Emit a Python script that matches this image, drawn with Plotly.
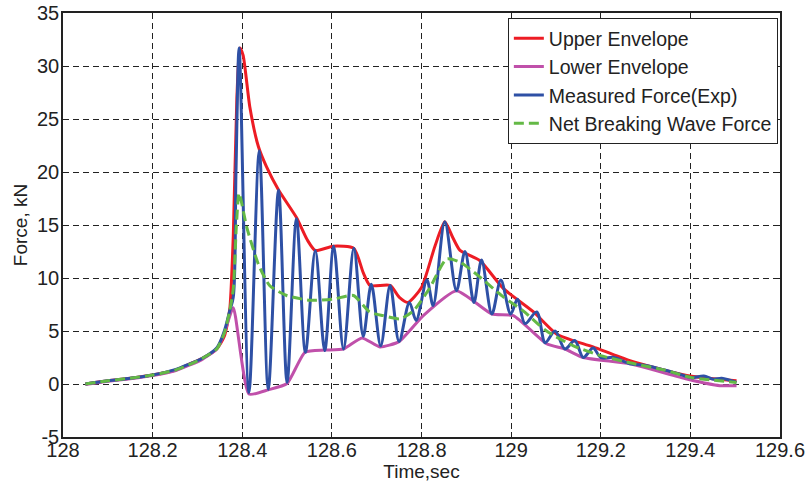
import plotly.graph_objects as go

# Measured force (experiment)
t_meas = [128.05, 128.10, 128.15, 128.20, 128.25, 128.283, 128.31, 128.343, 128.36, 128.372, 128.38,
          128.386, 128.393, 128.415, 128.438, 128.458, 128.481, 128.500, 128.521, 128.541, 128.563,
          128.584, 128.604, 128.626, 128.649, 128.670, 128.688, 128.709, 128.730, 128.750, 128.773,
          128.788, 128.812, 128.826, 128.852, 128.878, 128.897, 128.917, 128.934, 128.957, 128.977,
          128.999, 129.014, 129.031, 129.057, 129.076, 129.098, 129.120, 129.142, 129.161, 129.183,
          129.200, 129.230, 129.265, 129.300, 129.344, 129.370, 129.403, 129.430, 129.451, 129.470, 129.503]
f_meas = [0.0, 0.3, 0.55, 0.85, 1.35, 1.9, 2.4, 3.4, 5.0, 6.9, 8.2,
          20.0, 31.7, -0.8, 22.0, -0.5, 18.3, 0.15, 15.6, 3.0, 12.6,
          3.15, 13.0, 3.3, 12.8, 4.5, 9.4, 3.6, 9.3, 4.0, 7.7,
          6.0, 9.8, 7.4, 15.3, 8.8, 12.5, 7.7, 11.7, 6.6, 9.8,
          6.6, 8.0, 5.7, 6.8, 3.9, 5.0, 3.3, 4.1, 2.5, 3.4,
          2.5, 2.5, 1.9, 1.75, 1.3, 1.0, 0.6, 0.75, 0.45, 0.55, 0.15]

# Upper envelope
t_up = [128.05, 128.10, 128.15, 128.20, 128.25, 128.283, 128.31, 128.343, 128.36, 128.372, 128.38,
        128.388, 128.395, 128.402, 128.417, 128.436, 128.454, 128.481, 128.521, 128.545, 128.563,
        128.603, 128.649, 128.670, 128.685, 128.730, 128.750, 128.770, 128.800, 128.830, 128.852,
        128.870, 128.886, 128.930, 128.983, 129.050, 129.102, 129.183, 129.265, 129.392, 129.503]
f_up = [0.0, 0.3, 0.55, 0.85, 1.3, 1.9, 2.4, 3.3, 4.5, 7.0, 14.0,
        27.0, 31.7, 31.0, 26.1, 22.4, 20.5, 18.3, 15.7, 13.6, 12.6,
        13.0, 12.8, 10.5, 9.3, 9.3, 8.2, 7.7, 9.1, 13.0, 15.3,
        13.8, 12.6, 11.65, 9.0, 6.8, 4.7, 3.5, 2.2, 0.8, 0.3]

# Lower envelope
t_low = [128.05, 128.10, 128.15, 128.20, 128.25, 128.283, 128.31, 128.343, 128.36, 128.38,
         128.415, 128.458, 128.500, 128.540, 128.584, 128.626, 128.667, 128.707, 128.750, 128.804,
         128.878, 128.957, 129.005, 129.079, 129.120, 129.161, 129.265, 129.392, 129.466, 129.503]
f_low = [-0.05, 0.25, 0.5, 0.8, 1.25, 1.8, 2.3, 3.3, 4.8, 7.2,
         -0.95, -0.55, 0.05, 3.0, 3.2, 3.3, 4.35, 3.5, 4.0, 6.45,
         8.8, 6.6, 6.45, 3.8, 3.3, 2.5, 1.9, 0.47, -0.16, -0.16]

# Net breaking wave force
t_net = [128.05, 128.10, 128.15, 128.20, 128.25, 128.283, 128.31, 128.343, 128.36, 128.372, 128.38,
         128.387, 128.393, 128.410, 128.436, 128.461, 128.499, 128.551, 128.603, 128.648, 128.684,
         128.714, 128.752, 128.782, 128.819, 128.856, 128.886, 128.930, 128.983, 129.027, 129.079,
         129.139, 129.198, 129.265, 129.344, 129.403, 129.503]
f_net = [0.0, 0.3, 0.55, 0.85, 1.3, 1.85, 2.4, 3.3, 4.8, 6.9, 9.0,
         15.0, 18.0, 14.8, 11.3, 9.3, 8.35, 7.9, 8.0, 8.35, 6.8,
         6.45, 6.15, 6.9, 9.1, 11.8, 11.5, 10.1, 8.2, 6.9, 5.0,
         3.6, 2.7, 2.0, 1.3, 0.6, 0.15]

x_ticks = [128, 128.2, 128.4, 128.6, 128.8, 129, 129.2, 129.4, 129.6]
y_ticks = [-5, 0, 5, 10, 15, 20, 25, 30, 35]

RED = "rgb(237,28,36)"
MAG = "rgb(192,80,170)"
BLUE = "rgb(46,80,165)"
GREEN = "rgb(100,185,70)"

fig = go.Figure()
fig.add_trace(go.Scatter(x=t_up, y=f_up, mode="lines", name="Upper Envelope",
                         line=dict(color=RED, width=3, shape="spline", smoothing=0.6)))
fig.add_trace(go.Scatter(x=t_low, y=f_low, mode="lines", name="Lower Envelope",
                         line=dict(color=MAG, width=3, shape="spline", smoothing=0.5)))
fig.add_trace(go.Scatter(x=t_meas, y=f_meas, mode="lines", name="Measured Force(Exp)",
                         line=dict(color=BLUE, width=3, shape="spline", smoothing=0.9)))
fig.add_trace(go.Scatter(x=t_net, y=f_net, mode="lines", name="Net Breaking Wave Force",
                         line=dict(color=GREEN, width=3, dash="10px,5px", shape="spline", smoothing=0.6)))

FONT = "Liberation Sans, Arial, sans-serif"
axis_common = dict(showline=True, linecolor="#222", linewidth=1.5, mirror="allticks",
                   ticks="inside", ticklen=5, tickcolor="#222", automargin=False,
                   showgrid=True, gridcolor="#222", gridwidth=1, griddash="6px,4px",
                   zeroline=False, tickfont=dict(family=FONT, size=20, color="#222"))

fig.update_layout(
    width=812, height=485,
    margin=dict(l=63, r=32, t=13, b=48),
    paper_bgcolor="white", plot_bgcolor="white",
    font=dict(family=FONT, color="#222"),
    xaxis=dict(range=[128, 129.6], tickvals=x_ticks, ticktext=[f"{v:g}" for v in x_ticks],
               ticklabelstandoff=-6,
               title=dict(text="Time,sec", font=dict(family=FONT, size=19), standoff=0),
               **axis_common),
    yaxis=dict(range=[-5, 35], tickvals=y_ticks, ticktext=[f"{v:g}" for v in y_ticks],
               ticklabelstandoff=-2,
               title=dict(text="Force, kN", font=dict(family=FONT, size=19), standoff=4),
               **axis_common),
    legend=dict(x=0.997, y=0.988, xanchor="right", yanchor="top",
                bgcolor="white", bordercolor="#222", borderwidth=1,
                font=dict(family=FONT, size=19.5, color="#222"),
                tracegroupgap=0, itemwidth=30),
    showlegend=True,
)

fig.write_html("out.html")
